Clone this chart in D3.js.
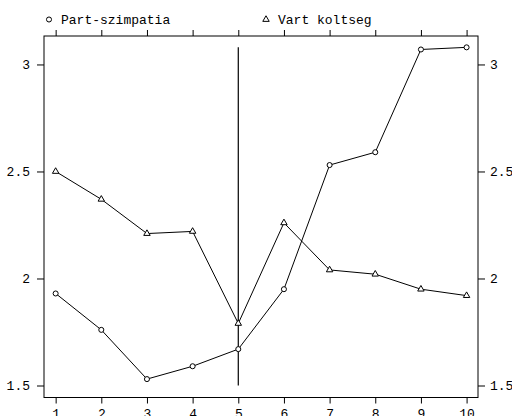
<!DOCTYPE html>
<html>
<head>
<meta charset="utf-8">
<script src="https://cdn.jsdelivr.net/npm/d3@7"></script>
<style>
  body { margin: 0; background: #fff; }
  text { font-family: "Liberation Mono", "DejaVu Sans Mono", monospace; font-size: 13px; fill: #000; }
</style>
</head>
<body>
<div id="chart"></div>
<script>
// chart data
var xVals = [1, 2, 3, 4, 5, 6, 7, 8, 9, 10];
var partSzimpatia = [1.93, 1.76, 1.53, 1.59, 1.67, 1.95, 2.53, 2.59, 3.07, 3.08];
var vartKoltseg = [2.50, 2.37, 2.21, 2.22, 1.79, 2.26, 2.04, 2.02, 1.95, 1.92];
var yTicks = [1.5, 2, 2.5, 3];
var seriesNames = ["Part-szimpatia", "Vart koltseg"];
var markerX = 5; // vertical reference line
var markerFrom = 1.5;

// panel box
var margin = {top: 36, right: 34, bottom: 18.5, left: 44},
  width = 512 - margin.left - margin.right,
  height = 416 - margin.top - margin.bottom;

var svg = d3.select("#chart")
.append("svg")
  .attr("width", 512)
  .attr("height", 416)
.append("g")
  .attr("transform", "translate(" + margin.left + "," + margin.top + ")");

var x = d3.scaleLinear()
  .domain([0.745, 10.25])
  .range([0, width]);

var y = d3.scaleLinear()
  .domain([1.444, 3.133])
  .range([height, 0]);

var fmt = function(d) { return String(d); };

// axes: ticks on all four sides, labels left/right/bottom
function styleAxis(g) {
  g.select(".domain").remove();
  g.selectAll("line").attr("stroke", "#000");
  g.selectAll("text").attr("font-size", null).attr("font-family", null);
}

svg.append("g")
  .call(d3.axisLeft(y).tickValues(yTicks).tickFormat(fmt).tickSize(7).tickPadding(7))
  .call(styleAxis);

svg.append("g")
  .attr("transform", "translate(" + width + ",0)")
  .call(d3.axisRight(y).tickValues(yTicks).tickFormat(fmt).tickSize(7).tickPadding(5))
  .call(styleAxis);

svg.append("g")
  .attr("transform", "translate(0," + height + ")")
  .call(d3.axisBottom(x).tickValues(xVals).tickFormat(fmt).tickSize(6).tickPadding(5))
  .call(styleAxis);

svg.append("g")
  .call(d3.axisTop(x).tickValues(xVals).tickFormat("").tickSize(6))
  .call(styleAxis);

// frame
svg.append("rect")
  .attr("x", 0)
  .attr("y", 0)
  .attr("width", width)
  .attr("height", height)
  .attr("fill", "none")
  .attr("stroke", "#000");

// vertical line at x = 5
svg.append("line")
  .attr("x1", x(markerX))
  .attr("x2", x(markerX))
  .attr("y1", y(markerFrom))
  .attr("y2", y(d3.max(partSzimpatia)))
  .attr("stroke", "#000")
  .attr("stroke-width", 1.2);

var line = d3.line()
  .x(function(d, i) { return x(xVals[i]); })
  .y(function(d) { return y(d); });

var circleSym = d3.symbol().type(d3.symbolCircle).size(20);
var triSym = d3.symbol().type(d3.symbolTriangle).size(18);

[partSzimpatia, vartKoltseg].forEach(function(vals, k) {
  svg.append("path")
    .datum(vals)
    .attr("d", line)
    .attr("fill", "none")
    .attr("stroke", "#000")
    .attr("stroke-width", 1);

  svg.selectAll(".pt" + k)
    .data(vals)
    .enter()
    .append("path")
    .attr("class", "pt" + k)
    .attr("transform", function(d, i) { return "translate(" + x(xVals[i]) + "," + y(d) + ")"; })
    .attr("d", k === 0 ? circleSym : triSym)
    .attr("fill", "#fff")
    .attr("stroke", "#000")
    .attr("stroke-width", 1);
});

// legend on top
var legend = d3.select("svg").append("g");
var legendX = [49, 266];
seriesNames.forEach(function(name, k) {
  legend.append("path")
    .attr("transform", "translate(" + legendX[k] + ",19.5)")
    .attr("d", k === 0 ? circleSym : triSym)
    .attr("fill", "#fff")
    .attr("stroke", "#000");
  legend.append("text")
    .attr("x", legendX[k] + 12)
    .attr("y", 23.5)
    .text(name);
});
</script>
</body>
</html>
